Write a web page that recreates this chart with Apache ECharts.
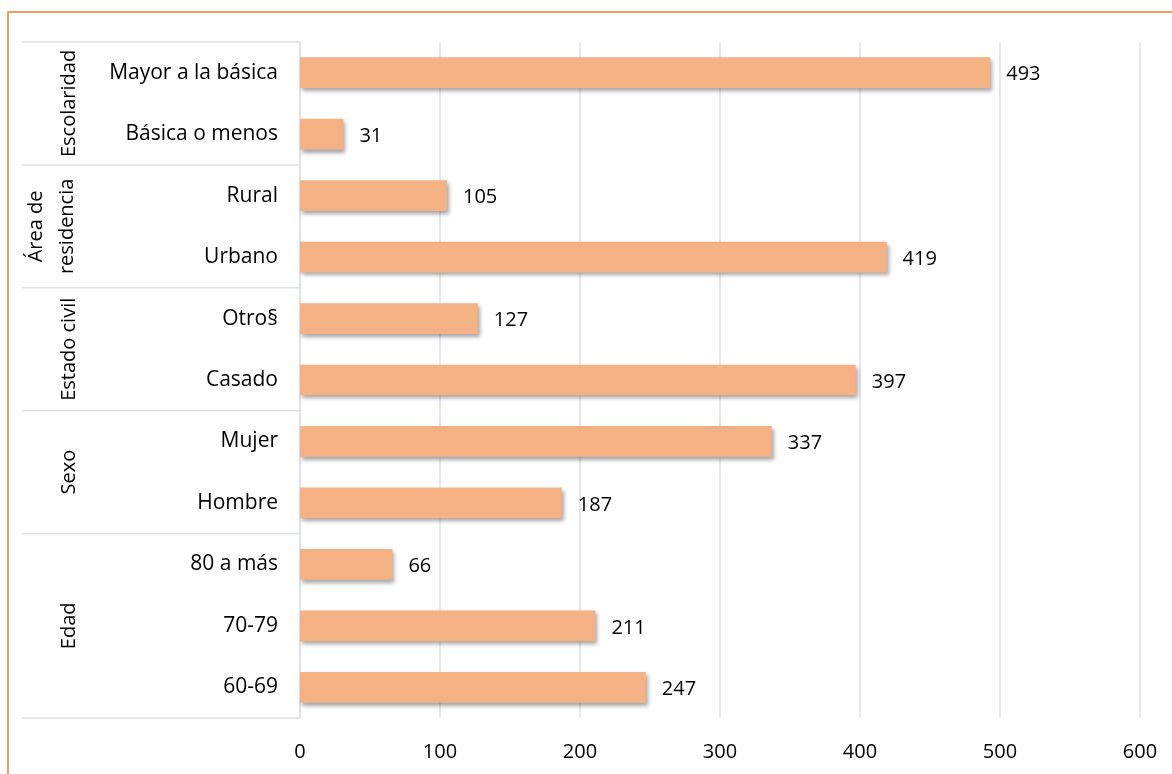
<!DOCTYPE html>
<html>
<head>
<meta charset="utf-8">
<script src="https://cdn.jsdelivr.net/npm/echarts@6/dist/echarts.min.js"></script>
<style>
  html, body { margin: 0; padding: 0; background: #fff; }
  #chart { width: 1172px; height: 774px; }
</style>
</head>
<body>
<div id="chart"></div>
<script>
// Categories listed bottom to top, as the value axis reads them
const categories = ['60-69', '70-79', '80 a más', 'Hombre', 'Mujer', 'Casado', 'Otro§', 'Urbano', 'Rural', 'Básica o menos', 'Mayor a la básica'];
const values = [247, 211, 66, 187, 337, 397, 127, 419, 105, 31, 493];
// Outer grouping of the categories (same bottom-to-top order)
const groupNames = ['Edad', 'Sexo', 'Estado civil', 'Área de\nresidencia', 'Escolaridad'];
const groupSizes = [3, 2, 2, 2, 2];
const xTicks = [0, 100, 200, 300, 400, 500, 600];

const FONT = 'Open Sans';
const GRID_COLOR = '#dde1e8';

const chart = echarts.init(document.getElementById('chart'), null, { renderer: 'canvas' });

chart.setOption({
  animation: false,
  backgroundColor: '#fff',
  grid: { left: 300, right: 32, top: 42, bottom: 56, containLabel: false },
  xAxis: {
    type: 'value',
    min: xTicks[0],
    max: xTicks[xTicks.length - 1],
    interval: xTicks[1] - xTicks[0],
    axisLine: { show: false },
    axisTick: { show: false },
    splitLine: { show: true, lineStyle: { color: GRID_COLOR, width: 1.5 } },
    axisLabel: { color: '#000', fontFamily: FONT, fontSize: 20, margin: 24 }
  },
  yAxis: {
    type: 'category',
    data: categories,
    axisLine: { show: true, lineStyle: { color: GRID_COLOR, width: 1.5 } },
    axisTick: { show: false },
    axisLabel: { color: '#000', fontFamily: FONT, fontSize: 21, margin: 22 }
  },
  series: [{
    type: 'bar',
    data: values,
    barWidth: '50%',
    itemStyle: {
      color: '#F4B183',
      shadowColor: 'rgba(0,0,0,0.35)',
      shadowBlur: 4,
      shadowOffsetX: 2,
      shadowOffsetY: 3
    },
    label: {
      show: true,
      position: 'right',
      distance: 16,
      color: '#000',
      fontFamily: FONT,
      fontSize: 20,
      offset: [0, 2]
    }
  }]
});

// Group separators and rotated group titles on the category side
function drawGroups() {
  const c0 = chart.convertToPixel({ yAxisIndex: 0 }, 0);
  const c1 = chart.convertToPixel({ yAxisIndex: 0 }, 1);
  const band = c0 - c1;
  const axisX = chart.convertToPixel({ xAxisIndex: 0 }, 0);
  const leftX = 22;
  const boundaryY = (i) => c0 + band / 2 - i * band;

  const elements = [];
  // chart frame
  elements.push({
    type: 'rect',
    shape: { x: 8, y: 12, width: 1200, height: 800 },
    style: { fill: 'none', stroke: '#ED7D31', lineWidth: 1.5 },
    silent: true
  });

  let start = 0;
  elements.push({
    type: 'line',
    shape: { x1: leftX, y1: boundaryY(0), x2: axisX, y2: boundaryY(0) },
    style: { stroke: GRID_COLOR, lineWidth: 1.5 },
    silent: true
  });
  groupSizes.forEach((n, gi) => {
    const end = start + n;
    const yTop = boundaryY(end);
    const yBot = boundaryY(start);
    elements.push({
      type: 'line',
      shape: { x1: leftX, y1: yTop, x2: axisX, y2: yTop },
      style: { stroke: GRID_COLOR, lineWidth: 1.5 },
      silent: true
    });
    const twoLines = groupNames[gi].indexOf('\n') >= 0;
    elements.push({
      type: 'text',
      x: twoLines ? 52 : 69,
      y: (yTop + yBot) / 2,
      rotation: Math.PI / 2,
      style: {
        text: groupNames[gi],
        font: '20px "' + FONT + '"',
        fill: '#000',
        align: 'center',
        verticalAlign: 'middle',
        lineHeight: 31
      },
      silent: true
    });
    start = end;
  });
  chart.setOption({ graphic: { elements } });
}
drawGroups();
</script>
</body>
</html>
